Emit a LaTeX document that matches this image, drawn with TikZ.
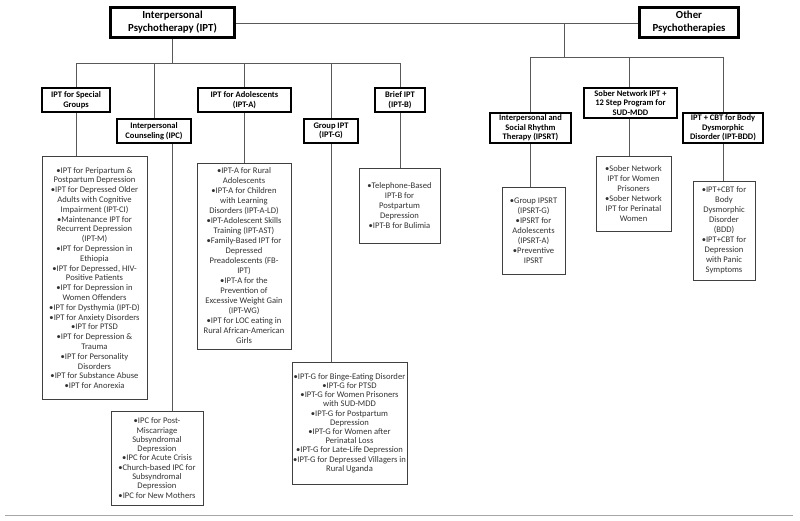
\documentclass[tikz,border=0pt]{standalone}
\usepackage{fontspec}
\setmainfont{Carlito}
\begin{document}
\begin{tikzpicture}[x=1pt,y=-1pt,
  topbox/.style={draw=black, line width=2.6pt, font=\bfseries\fontsize{10.8}{13}\selectfont, align=center, inner sep=0pt},
  hdrbox/.style={draw=black, line width=2.1pt, font=\bfseries\fontsize{8.5}{9.5}\selectfont, align=center, inner sep=0pt},
  leafbox/.style={draw=black!75, line width=0.7pt, text=black!80, align=center, inner sep=0pt},
  conn/.style={draw=black!65, line width=0.8pt},
  fs/.style={font=\fontsize{8.6}{#1}\selectfont}
]
\useasboundingbox (0,0) rectangle (800,521);

% top level
\node[topbox, minimum width=124pt, minimum height=30pt] (ipt) at (172.5,22.5) {Interpersonal\\Psychotherapy (IPT)};
\node[topbox, minimum width=99pt, minimum height=30pt] (oth) at (689,22.5) {Other\\Psychotherapies};

% second level, left
\node[hdrbox, minimum width=68pt, minimum height=24pt] (sg) at (76,100) {IPT for Special\\Groups};
\node[hdrbox, minimum width=74pt, minimum height=24pt] (ipc) at (154,131) {Interpersonal\\Counseling (IPC)};
\node[hdrbox, minimum width=93pt, minimum height=24pt] (ipta) at (244.5,100) {IPT for Adolescents\\(IPT-A)};
\node[hdrbox, minimum width=54pt, minimum height=24pt] (iptg) at (331,131) {Group IPT\\(IPT-G)};
\node[hdrbox, minimum width=50pt, minimum height=24pt] (iptb) at (400,100) {Brief IPT\\(IPT-B)};

% second level, right
\node[hdrbox, minimum width=81pt, minimum height=30pt] (ipsrt) at (530.5,128) {Interpersonal and\\Social Rhythm\\Therapy (IPSRT)};
\node[hdrbox, minimum width=93pt, minimum height=30pt] (sober) at (630.5,103) {Sober Network IPT +\\12 Step Program for\\SUD-MDD};
\node[hdrbox, minimum width=80pt, minimum height=30pt] (bdd) at (723,128) {IPT + CBT for Body\\Dysmorphic\\Disorder (IPT-BDD)};

% leaves
\node[leafbox, fs=9.8, minimum width=105pt, minimum height=243pt] (sgl) at (94.5,278) {•IPT for Peripartum \&\\Postpartum Depression\\•IPT for Depressed Older\\Adults with Cognitive\\Impairment (IPT-CI)\\•Maintenance IPT for\\Recurrent Depression\\(IPT-M)\\•IPT for Depression in\\Ethiopia\\•IPT for Depressed, HIV-\\Positive Patients\\•IPT for Depression in\\Women Offenders\\•IPT for Dysthymia (IPT-D)\\•IPT for Anxiety Disorders\\•IPT for PTSD\\•IPT for Depression \&\\Trauma\\•IPT for Personality\\Disorders\\•IPT for Substance Abuse\\•IPT for Anorexia};
\node[leafbox, fs=9.3, minimum width=92pt, minimum height=94pt] (ipcl) at (157,458) {•IPC for Post-\\Miscarriage\\Subsyndromal\\Depression\\•IPC for Acute Crisis\\•Church-based IPC for\\Subsyndromal\\Depression\\•IPC for New Mothers};
\node[leafbox, fs=10, minimum width=94pt, minimum height=186pt] (iptal) at (244,256) {•IPT-A for Rural\\Adolescents\\•IPT-A for Children\\with Learning\\Disorders (IPT-A-LD)\\•IPT-Adolescent Skills\\Training (IPT-AST)\\•Family-Based IPT for\\Depressed\\Preadolescents (FB-\\IPT)\\•IPT-A for the\\Prevention of\\Excessive Weight Gain\\(IPT-WG)\\•IPT for LOC eating in\\Rural African-American\\Girls};
\node[leafbox, fs=9.2, minimum width=115pt, minimum height=122pt] (iptgl) at (349.5,423) {•IPT-G for Binge-Eating Disorder\\•IPT-G for PTSD\\•IPT-G for Women Prisoners\\with SUD-MDD\\•IPT-G for Postpartum\\Depression\\•IPT-G for Women after\\Perinatal Loss\\•IPT-G for Late-Life Depression\\•IPT-G for Depressed Villagers in\\Rural Uganda};
\node[leafbox, fs=9.8, minimum width=81pt, minimum height=75pt] (iptbl) at (399.5,205.5) {•Telephone-Based\\IPT-B for\\Postpartum\\Depression\\•IPT-B for Bulimia};
\node[leafbox, fs=10, minimum width=63pt, minimum height=87pt] (ipsrtl) at (533.5,230.5) {•Group IPSRT\\(IPSRT-G)\\•IPSRT for\\Adolescents\\(IPSRT-A)\\•Preventive\\IPSRT};
\node[leafbox, fs=10, minimum width=75pt, minimum height=75pt] (soberl) at (633.5,193.5) {•Sober Network\\IPT for Women\\Prisoners\\•Sober Network\\IPT for Perinatal\\Women};
\node[leafbox, fs=10, minimum width=62pt, minimum height=99pt] (bddl) at (724,230.5) {•IPT+CBT for\\Body\\Dysmorphic\\Disorder\\(BDD)\\•IPT+CBT for\\Depression\\with Panic\\Symptoms};

% junction coordinates
\coordinate (busL) at (172,63);
\coordinate (jR) at (564,23);
\coordinate (busR) at (564,57);
\coordinate (ruleA) at (5,515);
\coordinate (ruleB) at (793,515);

% connectors top
\draw[conn] (ipt.east |- jR) -- (oth.west |- jR);
\draw[conn] (jR) -- (busR);
\draw[conn] (ipt.south -| busL) -- (busL);

% left bus
\draw[conn] (sg.north |- busL) -- (iptb.north |- busL);
\foreach \n in {sg,ipc,ipta,iptg,iptb}{
  \draw[conn] (\n.north |- busL) -- (\n.north);
}
% right bus
\draw[conn] (ipsrt.north |- busR) -- (bdd.north |- busR);
\draw[conn] (ipsrt.north |- busR) -- (ipsrt.north);
\draw[conn] ([xshift=-1pt]sober.north |- busR) -- ([xshift=-1pt]sober.north);
\draw[conn] (bdd.north |- busR) -- (bdd.north);

% drops to leaves
\draw[conn] (sg.south) -- (sg.south |- sgl.north);
\draw[conn] ([xshift=18pt]ipc.south) -- ([xshift=18pt]ipc.south |- ipcl.north);
\draw[conn] (ipta.south) -- (ipta.south |- iptal.north);
\draw[conn] (iptg.south) -- (iptg.south |- iptgl.north);
\draw[conn] (iptb.south) -- (iptb.south |- iptbl.north);
\draw[conn] (ipsrt.south) -- (ipsrt.south |- ipsrtl.north);
\draw[conn] ([xshift=-1pt]sober.south) -- ([xshift=-1pt]sober.south |- soberl.north);
\draw[conn] (bdd.south) -- (bdd.south |- bddl.north);

% bottom rule
\draw[black!35, line width=1pt] (ruleA) -- (ruleB);
\end{tikzpicture}
\end{document}
